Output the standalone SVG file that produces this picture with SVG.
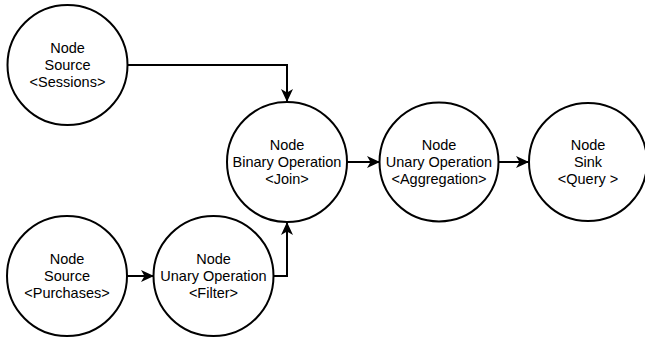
<svg xmlns="http://www.w3.org/2000/svg" width="645" height="339" viewBox="0 0 645 339">
  <style>
    .node circle { fill: #ffffff; stroke: #000000; stroke-width: 2; }
    .node text { font-family: "Liberation Sans", Arial, sans-serif; font-size: 14.5px; fill: #000000; text-anchor: middle; }
    .edge { fill: none; stroke: #000000; stroke-width: 2; marker-end: url(#arrow); }
  </style>
  <defs>
    <marker id="arrow" viewBox="0 0 13 12" refX="12" refY="6" markerWidth="13" markerHeight="12" markerUnits="userSpaceOnUse" orient="auto">
      <path d="M0,0 L13,6 L0,12 L3.5,6 Z" fill="#000000"/>
    </marker>
  </defs>

  <g id="connectors">
    <path class="edge" d="M127,65 H287 V101"/>
    <path class="edge" d="M127,276 H153"/>
    <path class="edge" d="M273,276 H287 V223"/>
    <path class="edge" d="M347,162 H379"/>
    <path class="edge" d="M498,162 H528"/>
  </g>

  <g id="source-sessions" class="node">
    <circle cx="67.5" cy="65" r="60"/>
    <text x="67.5" y="53">Node</text>
    <text x="67.5" y="70">Source</text>
    <text x="67.5" y="87">&lt;Sessions&gt;</text>
  </g>

  <g id="source-purchases" class="node">
    <circle cx="67" cy="276" r="60"/>
    <text x="67" y="264">Node</text>
    <text x="67" y="281">Source</text>
    <text x="67" y="298">&lt;Purchases&gt;</text>
  </g>

  <g id="filter" class="node">
    <circle cx="213.5" cy="276" r="60"/>
    <text x="213.5" y="264">Node</text>
    <text x="213.5" y="281">Unary Operation</text>
    <text x="213.5" y="298">&lt;Filter&gt;</text>
  </g>

  <g id="join" class="node">
    <circle cx="287" cy="162" r="60"/>
    <text x="287" y="150">Node</text>
    <text x="287" y="167">Binary Operation</text>
    <text x="287" y="184">&lt;Join&gt;</text>
  </g>

  <g id="aggregation" class="node">
    <circle cx="439" cy="162" r="59.5"/>
    <text x="439" y="150">Node</text>
    <text x="439" y="167">Unary Operation</text>
    <text x="439" y="184">&lt;Aggregation&gt;</text>
  </g>

  <g id="sink" class="node">
    <circle cx="588" cy="162" r="59"/>
    <text x="588" y="150">Node</text>
    <text x="588" y="167">Sink</text>
    <text x="588" y="184">&lt;Query &gt;</text>
  </g>
</svg>
